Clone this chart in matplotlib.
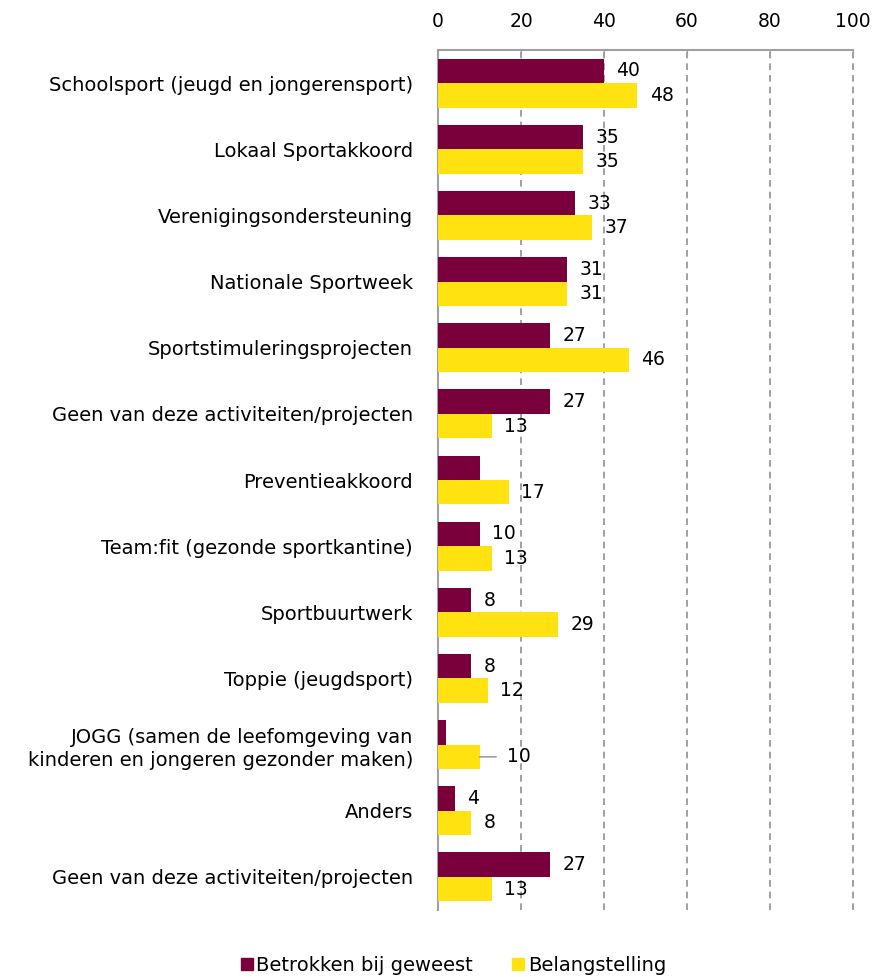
import matplotlib
matplotlib.use("Agg")
import matplotlib.pyplot as plt
import numpy as np
from matplotlib.lines import Line2D

plt.rcParams.update({
    "font.family": "DejaVu Sans",
    "font.size": 13,
})

categories = [
    "Schoolsport (jeugd en jongerensport)",
    "Lokaal Sportakkoord",
    "Verenigingsondersteuning",
    "Nationale Sportweek",
    "Sportstimuleringsprojecten",
    "Geen van deze activiteiten/projecten",
    "Preventieakkoord",
    "Team:fit (gezonde sportkantine)",
    "Sportbuurtwerk",
    "Toppie (jeugdsport)",
    "JOGG (samen de leefomgeving van\nkinderen en jongeren gezonder maken)",
    "Anders",
    "Geen van deze activiteiten/projecten",
]
betrokken = [40, 35, 33, 31, 27, 27, 10, 10, 8, 8, 2, 4, 27]
belangstelling = [48, 35, 37, 31, 46, 13, 17, 13, 29, 12, 10, 8, 13]
# labels excel showed (None = hidden)
betrokken_lbl = ["40", "35", "33", "31", "27", "27", None, "10", "8", "8", None, "4", "27"]
belang_lbl = [str(v) for v in belangstelling]

MAROON = "#7a003c"
YELLOW = "#ffe20f"
VAL_FS = 13.5

fig = plt.figure(figsize=(8.75, 9.77), dpi=100)
ax = fig.add_axes([0.5006, 0.0686, 0.4743, 0.8802])

y = np.arange(len(categories))
h = 0.37
ax.barh(y - h / 2, betrokken, height=h, color=MAROON, zorder=3)
ax.barh(y + h / 2, belangstelling, height=h, color=YELLOW, zorder=3)

for i in range(len(categories)):
    if betrokken_lbl[i] is not None:
        ax.annotate(betrokken_lbl[i], (betrokken[i], y[i] - h / 2),
                    xytext=(9, 0), textcoords="offset points",
                    va="center", ha="left", fontsize=VAL_FS, zorder=4)
    if i == 10:
        # leader line for the jogg label
        ax.annotate(belang_lbl[i], (belangstelling[i], y[i] + h / 2),
                    xytext=(20, 0), textcoords="offset points",
                    va="center", ha="left", fontsize=VAL_FS, zorder=4)
        ax.annotate("", (belangstelling[i], y[i] + h / 2),
                    xytext=(belangstelling[i] + 4, y[i] + h / 2),
                    arrowprops=dict(arrowstyle="-", color="#a0a0a0", lw=1.2,
                                    shrinkA=0, shrinkB=0))
    else:
        ax.annotate(belang_lbl[i], (belangstelling[i], y[i] + h / 2),
                    xytext=(9, 0), textcoords="offset points",
                    va="center", ha="left", fontsize=VAL_FS, zorder=4)

ax.set_xlim(0, 100)
ax.set_ylim(len(categories) - 0.5, -0.5)
ax.set_yticks(y)
ax.set_yticklabels(categories, fontsize=14, ha="right", linespacing=1.3)
ax.xaxis.set_ticks_position("top")
ax.set_xticks(range(0, 101, 20))
ax.tick_params(axis="x", direction="in", length=5, color="#a0a0a0",
               labelsize=13.5, pad=14)
ax.tick_params(axis="y", length=0, pad=18)
for lbl in ax.get_yticklabels():
    lbl.set_multialignment("right")

for xv in range(20, 101, 20):
    ax.axvline(xv, color="#909090", lw=1.2, ls=(0, (4, 3)), zorder=1,
               clip_on=False)

for s in ["right", "bottom"]:
    ax.spines[s].set_visible(False)
for s in ["top", "left"]:
    ax.spines[s].set_color("#a0a0a0")
    ax.spines[s].set_linewidth(1.5)

handles = [
    Line2D([], [], marker="s", ls="", color=MAROON, markersize=9),
    Line2D([], [], marker="s", ls="", color=YELLOW, markersize=9),
]
fig.legend(handles, ["Betrokken bij geweest", "Belangstelling"], loc="center",
           bbox_to_anchor=(0.516, 0.012), ncol=2, frameon=False, fontsize=14,
           handletextpad=0.0, columnspacing=1.8, handlelength=1.0)

fig.savefig("out.png", dpi=100)
